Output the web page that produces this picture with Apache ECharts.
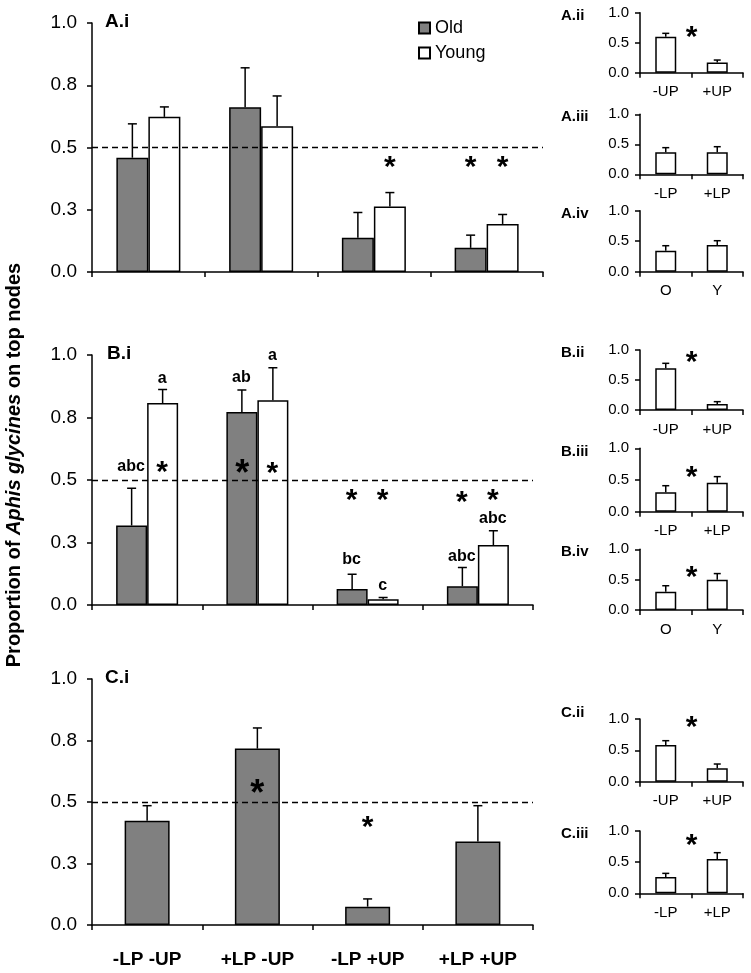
<!DOCTYPE html>
<html>
<head>
<meta charset="utf-8">
<script src="https://cdn.jsdelivr.net/npm/echarts@6/dist/echarts.min.js"></script>
<style>html,body{margin:0;padding:0;background:#fff;}#c{width:751px;height:973px;}</style>
</head>
<body>
<div id="c"></div>
<script>
// ---------- data ----------
const mainCats = ['-LP -UP', '+LP -UP', '-LP +UP', '+LP +UP'];
const mainTickLabels = ['0.0', '0.3', '0.5', '0.8', '1.0'];
const smallTickLabels = ['0.0', '0.5', '1.0'];
const upCats = ['-UP', '+UP'];
const lpCats = ['-LP', '+LP'];
const ageCats = ['O', 'Y'];

// A.i
const aOld = [0.459, 0.662, 0.138, 0.097];
const aOldErr = [0.136, 0.158, 0.101, 0.051];
const aYoung = [0.623, 0.585, 0.263, 0.193];
const aYoungErr = [0.040, 0.122, 0.056, 0.038];
const aOldStar = [null, null, null, 0.443];
const aYoungStar = [null, null, 0.443, 0.443];

// B.i
const bOld = [0.318, 0.772, 0.064, 0.075];
const bOldErr = [0.149, 0.088, 0.059, 0.075];
const bYoung = [0.808, 0.819, 0.023, 0.240];
const bYoungErr = [0.054, 0.130, 0.007, 0.057];
const bOldLetters = ['abc', 'ab', 'bc', 'abc'];
const bOldLetterY = [0.554, 0.909, 0.180, 0.192];
const bYoungLetters = ['a', 'a', 'c', 'abc'];
const bYoungLetterY = [0.906, 0.996, 0.079, 0.346];
const bOldStar = [null, null, 0.443, 0.432];
const bOldBigStar = [null, 0.550, null, null];
const bYoungStar = [0.554, 0.550, 0.443, 0.443];

// C.i
const cVal = [0.424, 0.717, 0.0745, 0.339];
const cErr = [0.061, 0.084, 0.0315, 0.146];
const cStar = [null, null, 0.420, null];
const cBigStar = [null, 0.556, null, null];

// small panels
const aiiVal = [0.600, 0.172], aiiErr = [0.056, 0.039], aiiStar = [0.68];
const aiiiVal = [0.367, 0.367], aiiiErr = [0.077, 0.093], aiiiStar = [null];
const aivVal = [0.344, 0.437], aivErr = [0.082, 0.071], aivStar = [null];
const biiVal = [0.694, 0.100], biiErr = [0.084, 0.039], biiStar = [0.89];
const biiiVal = [0.305, 0.458], biiiErr = [0.105, 0.095], biiiStar = [0.63];
const bivVal = [0.302, 0.500], bivErr = [0.098, 0.100], bivStar = [0.63];
const ciiVal = [0.585, 0.213], ciiErr = [0.069, 0.069], ciiStar = [0.957];
const ciiiVal = [0.262, 0.551], ciiiErr = [0.058, 0.101], ciiiStar = [0.866];

// ---------- layout / style ----------
const FONT = '"Liberation Sans", Arial, Helvetica, sans-serif';
const GRAY = '#808080';

const grids = [], xAxes = [], yAxes = [], series = [], graphics = [];

function addGrid(g, cats, opts) {
  const gi = grids.length;
  grids.push({left: g[0], top: g[1], width: g[2], height: g[3], containLabel: false});
  xAxes.push({
    type: 'category', gridIndex: gi, data: cats,
    axisLine: {lineStyle: {color: '#000', width: 1.5}},
    axisTick: {show: true, length: 5, lineStyle: {color: '#000', width: 1.5}},
    axisLabel: opts.xLabel ? Object.assign({color: '#000', fontFamily: FONT}, opts.xLabel) : {show: false},
    splitLine: {show: false}
  });
  const ticks = opts.small ? smallTickLabels : mainTickLabels;
  yAxes.push({
    type: 'value', gridIndex: gi, min: 0, max: 1, interval: opts.small ? 0.5 : 0.25,
    axisLine: {show: true, lineStyle: {color: '#000', width: 1.5}},
    axisTick: {show: true, length: 5, lineStyle: {color: '#000', width: 1.5}},
    splitLine: {show: false},
    axisLabel: {
      color: '#000', fontFamily: FONT, fontSize: opts.small ? 15 : 19, margin: opts.small ? 11 : 15,
      formatter: (v, i) => ticks[i]
    }
  });
  return gi;
}

function barSeries(gi, name, vals, color, width, dashed) {
  const s = {
    type: 'bar', name: name, xAxisIndex: gi, yAxisIndex: gi, data: vals,
    barWidth: width, barGap: '0%', z: 2, silent: true,
    itemStyle: {color: color, borderColor: '#000', borderWidth: 1.5}
  };
  if (dashed) {
    s.markLine = {
      silent: true, symbol: ['none', 'none'], label: {show: false},
      lineStyle: {color: '#000', type: [6, 4], width: 1.3},
      data: [{yAxis: 0.5}], z: 4
    };
  }
  series.push(s);
}

function errSeries(gi, vals, errs, offset, cap) {
  series.push({
    type: 'custom', xAxisIndex: gi, yAxisIndex: gi, silent: true, z: 5,
    data: vals.map((v, i) => [i, v, errs[i]]),
    renderItem: function (params, api) {
      const i = api.value(0), v = api.value(1), e = api.value(2);
      const b = api.coord([i, v]);
      const t = api.coord([i, v + e]);
      const x = b[0] + offset;
      return {
        type: 'group', children: [
          {type: 'line', shape: {x1: x, y1: b[1], x2: x, y2: t[1]}, style: {stroke: '#000', lineWidth: 1.5}},
          {type: 'line', shape: {x1: x - cap / 2, y1: t[1], x2: x + cap / 2, y2: t[1]}, style: {stroke: '#000', lineWidth: 1.5}}
        ]
      };
    }
  });
}

function textSeries(gi, ys, texts, offset, fontSize, dyFactor, halfCat) {
  const data = [];
  ys.forEach((y, i) => { if (y !== null) data.push([i, y, i]); });
  series.push({
    type: 'custom', xAxisIndex: gi, yAxisIndex: gi, silent: true, z: 10,
    data: data,
    renderItem: function (params, api) {
      const p = api.coord([api.value(0), api.value(1)]);
      const idx = api.value(2);
      let x = p[0] + offset;
      if (halfCat) x += api.size([1, 0])[0] / 2;
      return {
        type: 'text', x: x, y: p[1] + fontSize * dyFactor,
        style: {
          text: typeof texts === 'string' ? texts : texts[idx],
          fill: '#000', fontFamily: FONT, fontWeight: 'bold', fontSize: fontSize,
          align: 'center', verticalAlign: 'middle'
        }
      };
    }
  });
}

function panelLabel(txt, x, y, size) {
  graphics.push({type: 'text', x: x, y: y, silent: true,
    style: {text: txt, fill: '#000', fontFamily: FONT, fontWeight: 'bold', fontSize: size, align: 'left', verticalAlign: 'middle'}});
}

const STAR = 30, BIGSTAR = 36, STARDY = 0.2, LET = 16;

// ----- A.i -----
let g = addGrid([92, 23, 451, 249], mainCats, {});
barSeries(g, 'Old', aOld, GRAY, 32, true);
barSeries(g, 'Young', aYoung, '#fff', 32, false);
errSeries(g, aOld, aOldErr, -16, 9);
errSeries(g, aYoung, aYoungErr, 16, 9);
textSeries(g, aOldStar, '*', -16, STAR, STARDY);
textSeries(g, aYoungStar, '*', 16, STAR, STARDY);
panelLabel('A.i', 105, 22, 19);

// ----- B.i -----
g = addGrid([92, 355, 441, 250], mainCats, {});
barSeries(g, 'Old', bOld, GRAY, 31, true);
barSeries(g, 'Young', bYoung, '#fff', 31, false);
errSeries(g, bOld, bOldErr, -15.5, 9);
errSeries(g, bYoung, bYoungErr, 15.5, 9);
textSeries(g, bOldLetterY, bOldLetters, -16, LET, 0);
textSeries(g, bYoungLetterY, bYoungLetters, 15, LET, 0);
textSeries(g, bOldStar, '*', -16, STAR, STARDY);
textSeries(g, bOldBigStar, '*', -15, BIGSTAR, STARDY);
textSeries(g, bYoungStar, '*', 15, STAR, STARDY);
panelLabel('B.i', 107, 354, 19);

// ----- C.i -----
g = addGrid([92, 679, 441, 246], mainCats, {xLabel: {fontSize: 19, fontWeight: 'bold', margin: 25}});
barSeries(g, 'All', cVal, GRAY, 45, true);
errSeries(g, cVal, cErr, 0, 9);
textSeries(g, cStar, '*', 0, STAR, STARDY);
textSeries(g, cBigStar, '*', 0, BIGSTAR, STARDY);
panelLabel('C.i', 105, 678, 19);

// ----- small panels -----
const smallPanels = [
  ['A.ii', [640, 12.7, 103, 60], upCats, aiiVal, aiiErr, aiiStar, 16],
  ['A.iii', [640, 114.3, 103, 60], lpCats, aiiiVal, aiiiErr, aiiiStar, 117],
  ['A.iv', [640, 210.7, 103, 61], ageCats, aivVal, aivErr, aivStar, 214],
  ['B.ii', [640, 350, 103, 60], upCats, biiVal, biiErr, biiStar, 353],
  ['B.iii', [640, 448.3, 103, 63.4], lpCats, biiiVal, biiiErr, biiiStar, 452],
  ['B.iv', [640, 549.3, 103, 60.7], ageCats, bivVal, bivErr, bivStar, 552],
  ['C.ii', [640, 719, 103, 62.7], upCats, ciiVal, ciiErr, ciiStar, 713],
  ['C.iii', [640, 831, 103, 62.3], lpCats, ciiiVal, ciiiErr, ciiiStar, 834]
];
smallPanels.forEach(p => {
  const gi = addGrid(p[1], p[2], {small: true, xLabel: {fontSize: 15, margin: 12}});
  barSeries(gi, 'S', p[3], '#fff', 21, false);
  errSeries(gi, p[3], p[4], 0, 7);
  textSeries(gi, p[5], '*', 0, STAR, STARDY, true);
  panelLabel(p[0], 561, p[6], 15);
});

// y-axis title
graphics.push({
  type: 'text', x: 14, y: 465, rotation: Math.PI / 2, silent: true,
  style: {
    text: '{n|Proportion of }{i|Aphis glycines}{n| on top nodes}',
    align: 'center', verticalAlign: 'middle',
    rich: {
      n: {fontFamily: FONT, fontWeight: 'bold', fontSize: 20, fill: '#000'},
      i: {fontFamily: FONT, fontWeight: 'bold', fontStyle: 'italic', fontSize: 20, fill: '#000'}
    }
  }
});

const chart = echarts.init(document.getElementById('c'), null, {renderer: 'canvas'});
chart.setOption({
  animation: false,
  backgroundColor: '#fff',
  grid: grids, xAxis: xAxes, yAxis: yAxes, series: series,
  legend: {
    data: ['Old', 'Young'], orient: 'vertical', left: 413, top: 14,
    itemWidth: 11, itemHeight: 11, itemGap: 7, icon: 'rect', selectedMode: false,
    textStyle: {fontSize: 18, fontFamily: FONT, color: '#000'}
  },
  graphic: graphics
});
</script>
</body>
</html>
